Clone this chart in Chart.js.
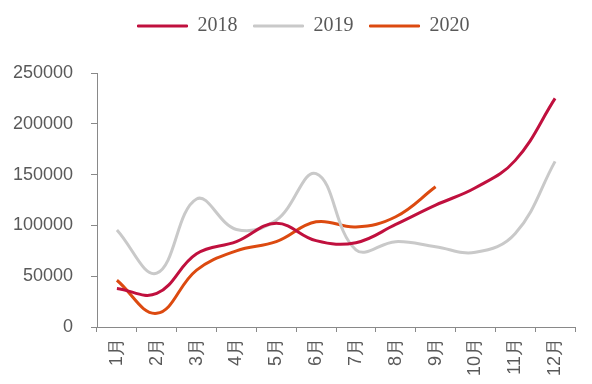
<!DOCTYPE html>
<html>
<head>
<meta charset="utf-8">
<script src="https://cdn.jsdelivr.net/npm/chart.js@4.4.0/dist/chart.umd.min.js"></script>
<style>
  html, body { margin: 0; padding: 0; background: #fff; }
  #wrap { width: 592px; height: 384px; }
</style>
</head>
<body>
<div id="wrap"><canvas id="chart"></canvas></div>
<script>
// Months on the x axis
const months = ['1月', '2月', '3月', '4月', '5月', '6月', '7月', '8月', '9月', '10月', '11月', '12月'];

// Series values
const values2018 = [38000, 33000, 72000, 84000, 102000, 85000, 83000, 101000, 120000, 137000, 164000, 225000];
const values2019 = [95500, 53000, 126000, 96000, 105000, 151000, 76000, 84000, 79000, 73500, 92000, 163000];
const values2020 = [46000, 13500, 56000, 75000, 84000, 103500, 98500, 108500, 138000];

const yTicks = [0, 50000, 100000, 150000, 200000, 250000];

const axisColor = '#898989';
const textColor = '#595959';

function series(label, data, color) {
    return {
        label: label,
        data: data,
        borderColor: color,
        backgroundColor: color,
        borderWidth: 3,
        pointRadius: 0,
        tension: 0.4,
        fill: false
    };
}

// extra room under the legend, and nudge it right a bit
const legendSpace = {
    id: 'legendSpace',
    afterInit(chart) {
        const fit = chart.legend.fit;
        chart.legend.fit = function() {
            fit.call(this);
            this.height += 27;
        };
    },
    afterLayout(chart) {
        chart.legend.left += 16;
        chart.legend.right += 16;
    }
};

new Chart(document.getElementById('chart'), {
    type: 'line',
    data: {
        labels: months,
        datasets: [
            series('2018', values2018, '#C0103E'),
            series('2019', values2019, '#C9C9C9'),
            series('2020', values2020, '#DC4A10')
        ]
    },
    plugins: [legendSpace],
    options: {
        responsive: true,
        maintainAspectRatio: false,
        animation: false,
        layout: { padding: { top: 0, right: 17, left: 0, bottom: 0 } },
        plugins: {
            tooltip: { enabled: false },
            legend: {
                position: 'top',
                labels: {
                    boxWidth: 50,
                    boxHeight: 2,
                    padding: 16,
                    color: textColor,
                    font: { family: 'Liberation Serif', size: 20 },
                    generateLabels: chart => Chart.defaults.plugins.legend.labels.generateLabels(chart)
                        .map(item => Object.assign(item, { lineWidth: 1 }))
                }
            }
        },
        scales: {
            x: {
                offset: true,
                grid: {
                    offset: true,
                    drawOnChartArea: false,
                    color: axisColor,
                    tickLength: 5
                },
                border: { color: axisColor },
                ticks: {
                    minRotation: 90,
                    maxRotation: 90,
                    padding: 6,
                    color: textColor,
                    font: { family: 'Liberation Sans', size: 18 }
                },
                afterFit: s => { s.height = 57; }
            },
            y: {
                min: 0,
                max: 250000,
                afterBuildTicks: s => { s.ticks = yTicks.map(v => ({ value: v })); },
                grid: {
                    drawOnChartArea: false,
                    color: axisColor,
                    tickLength: 6
                },
                border: { color: axisColor },
                ticks: {
                    padding: 18,
                    color: textColor,
                    font: { family: 'Liberation Sans', size: 18 },
                    callback: v => String(v)
                },
                afterFit: s => { s.width = 97; }
            }
        }
    }
});
</script>
</body>
</html>
